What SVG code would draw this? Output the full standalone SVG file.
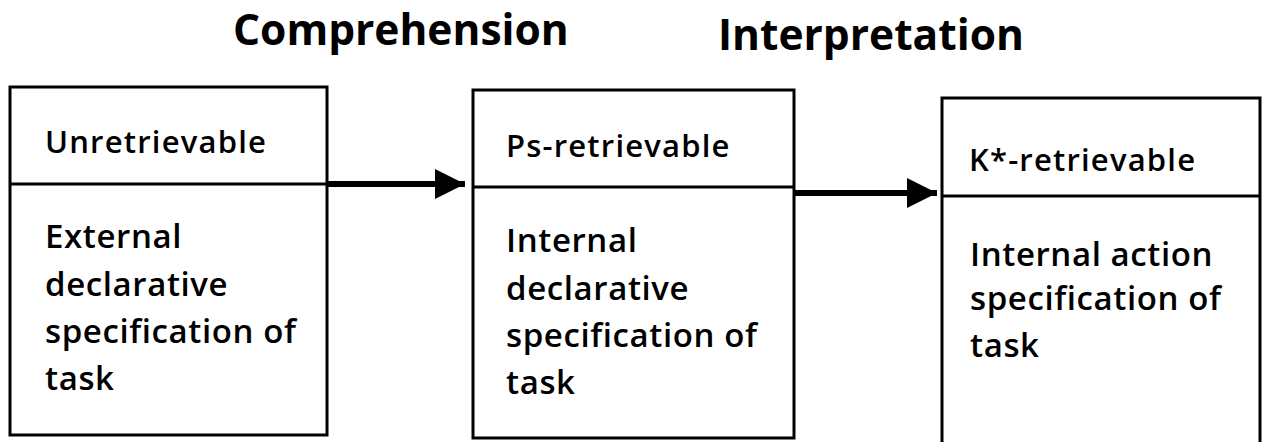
<svg xmlns="http://www.w3.org/2000/svg" width="1264" height="442" viewBox="0 0 1264 442">
<style>
.box{fill:none;stroke:#000;stroke-width:3}
.div{stroke:#000;stroke-width:3}
.title{font-family:"Open Sans","Liberation Sans",sans-serif;font-weight:700;font-size:42.5px;fill:#000}
.head{font-family:"Open Sans","Liberation Sans",sans-serif;font-weight:600;font-size:31px;letter-spacing:1.2px;fill:#000}
.body{font-family:"Open Sans","Liberation Sans",sans-serif;font-weight:600;font-size:33px;letter-spacing:0.6px;fill:#000}
.conn{stroke:#000;stroke-width:6;fill:none}
</style>
<defs>
<marker id="ah" markerUnits="userSpaceOnUse" markerWidth="30" markerHeight="32" refX="30" refY="16" orient="auto">
<path d="M0,1 L30,16 L0,31 Z" fill="#000"/>
</marker>
</defs>
<text class="title" x="233" y="45">Comprehension</text>
<text class="title" x="718" y="50">Interpretation</text>
<g id="node1">
<rect class="box" x="10" y="87" width="317" height="348"/>
<line class="div" x1="10" y1="184" x2="327" y2="184"/>
<text class="head" x="45" y="153">Unretrievable</text>
<text class="body" x="45" y="248">External</text>
<text class="body" x="45" y="296">declarative</text>
<text class="body" x="45" y="343">specification of</text>
<text class="body" x="45" y="390">task</text>
</g>
<g id="node2">
<rect class="box" x="473" y="90" width="321" height="348"/>
<line class="div" x1="473" y1="187" x2="794" y2="187"/>
<text class="head" x="506" y="157">Ps-retrievable</text>
<text class="body" x="506" y="252">Internal</text>
<text class="body" x="506" y="300">declarative</text>
<text class="body" x="506" y="347">specification of</text>
<text class="body" x="506" y="394">task</text>
</g>
<g id="node3">
<path class="box" d="M942,444 L942,98 L1260,98 L1260,444"/>
<line class="div" x1="942" y1="196" x2="1260" y2="196"/>
<text class="head" x="969" y="171">K*-retrievable</text>
<text class="body" x="970" y="266">Internal action</text>
<text class="body" x="970" y="310">specification of</text>
<text class="body" x="970" y="357">task</text>
</g>
<g id="connectors">
<line class="conn" x1="327" y1="184" x2="465" y2="184" marker-end="url(#ah)"/>
<line class="conn" x1="794" y1="193" x2="937" y2="193" marker-end="url(#ah)"/>
</g>
</svg>
